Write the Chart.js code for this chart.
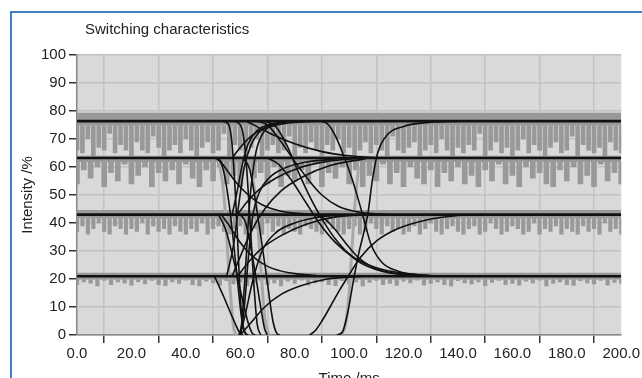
<!DOCTYPE html>
<html><head><meta charset="utf-8">
<script src="https://cdn.jsdelivr.net/npm/chart.js@4.4.1/dist/chart.umd.min.js"></script>
<style>
html,body{margin:0;padding:0;background:#fff;overflow:hidden;width:642px;height:378px;}
#wrap{position:relative;width:642px;height:378px;overflow:hidden;}
#frame{position:absolute;left:10px;top:11px;width:700px;height:420px;border-top:2px solid #3f80c4;border-left:2px solid #3f80c4;}
canvas{position:absolute;left:0;top:0;}
</style></head><body>
<div id="wrap"><div id="frame"></div><canvas id="c" width="642" height="396"></canvas></div>
<script>
// ---------- DATA ----------
const chartTitle = 'Switching characteristics';
const xTitle = 'Time /ms';
const yTitle = 'Intensity /%';
const xTicks = [0,20,40,60,80,100,120,140,160,180,200];
const xTickLabels = ['0.0','20.0','40.0','60.0','80.0','100.0','120.0','140.0','160.0','180.0','200.0'];
const yTicks = [0,10,20,30,40,50,60,70,80,90,100];
const yTickLabels = ['0','10','20','30','40','50','60','70','80','90','100'];

// settled intensity levels (black traces)
const levels = [76.4, 63.2, 43.0, 21.0];
// raw (grey) signal bands: upper and lower edge of the dense part
const bandHigh = [79.4, 64.0, 44.6, 22.2];
const bandLow  = [74.8, 61.8, 41.6, 19.8];
// raw signal minima, sampled every rawStep ms
const rawStepA = 2, rawStepB = 2.5, rawStepC = 2, rawStepD = 2.5;
const rawA = [66,65,70,64,67,66,72,65,68,66, 64,69,66,65,71,67,64,66,68,65, 70,66,64,67,69,65,66,72,64,68,
  66,65,67,70,64,66,68,65,66,71, 64,67,65,69,66,64,68,66,70,65, 67,64,66,69,65,68,66,64,71,66,
  65,67,69,64,66,68,65,70,66,64, 67,65,68,66,72,64,66,69,65,67, 64,66,70,65,68,66,64,67,69,65,
  66,71,64,68,66,65,67,64,69,66, 65];
const rawB = [54,59,56,60,53,58,55,61,54,57, 60,53,58,55,59,54,61,56,53,59, 55,60,54,57,53,61,56,58,54,60,
  53,57,55,59,54,61,53,58,56,60, 54,59,53,57,55,61,54,58,53,60, 56,54,59,53,58,55,60,54,57,53,
  59,55,61,54,57,53,60,56,58,54, 53,59,55,60,54,57,53,61,55,58, 54];
const rawC = [37,39,36,38,40,37,36,39,38,36, 38,37,40,36,39,37,38,36,39,37, 36,38,37,40,36,38,39,37,36,38,
  39,36,37,38,36,40,37,39,36,38, 37,36,39,38,37,36,40,38,37,36, 38,39,36,37,40,38,36,39,37,38,
  36,37,39,36,38,40,37,36,38,39, 37,36,38,39,36,37,40,38,36,37, 39,38,36,37,40,36,38,37,39,36,
  38,37,36,39,37,38,36,40,37,38, 36];
const rawD = [18,19,18.5,17.5,19.5,18,19,18.5,17.8,19, 18.2,19.5,18,17.6,19,18.4,19.6,18,17.5,19.2,
  18.6,17.8,19.4,18.2,19,17.6,18.8,19.5,18,18.6, 17.5,19.2,18.4,19.6,17.8,18.6,19,18,17.6,19.4,
  18.2,19,17.5,18.8,19.5,18,18.4,17.7,19.2,18.6, 19.6,17.8,18.4,19,18,17.5,19.4,18.6,18.2,19,
  17.6,18.8,19.5,18,18.4,17.8,19.2,18.6,19.6,17.5, 18.4,19,18,17.7,19.4,18.6,18.2,19.5,17.8,18.8, 18.4];

// transitions [time ms, intensity %]
const fall76to0a = [[53,76.4],[55.5,75.5],[57,68],[58.5,45],[60,14],[61,3],[62.5,0]];
const fall63to0  = [[51,63.2],[53.5,60],[56,46],[58.5,24],[60.5,6],[62,0.5],[63,0]];
const fall43to0  = [[52,43],[54.5,38],[57.5,27],[60.5,14],[63,4],[64.5,0.5],[65.5,0]];
const fall21to0  = [[50.5,21],[54,13.5],[57.5,5.5],[60,0.5],[61,0]];
const fall76to0b = [[58,76.4],[60.5,74],[62,64],[63.5,42],[65,18],[66.2,4],[67.5,0]];
const fall63to0b = [[61,63.2],[63.5,59],[66.5,42],[69.5,22],[72,5],[73.5,0.5],[74.5,0]];
const fall43to0b = [[60,43],[62,40],[65,25],[67.5,10],[69,2],[70,0]];
const rise0to76  = [[59.5,0],[60.5,4],[62,25],[63.5,48],[65.5,64],[68,71.5],[72,75],[80,76.4]];
const rise0to63  = [[60,0],[61.5,10],[63,28],[64.5,42],[67,51],[70.5,56],[76,59.5],[84,61.7],[98,63.1]];
const rise0to43  = [[60,0],[62,8],[64.5,19],[68,30],[73,36.5],[80,40],[90,42.3],[100,43]];
const rise0to21  = [[60,0],[64,4.5],[69,10],[75,14.5],[82,17.5],[92,20],[105,21]];
const rise21to76 = [[55,21],[57.5,32],[59.5,47],[61.5,60],[64,68],[67,72.5],[72,75.3],[80,76.4]];
const rise43to76 = [[57,43],[59,52],[61,62],[63,68.5],[66,72.8],[71,75.3],[80,76.4]];
const rise21to63 = [[57,21],[60,28],[64,37],[69,45],[75,51.5],[83,56.5],[93,60.5],[106,63]];
const rise43to63 = [[59,43],[62,47],[67,52],[73,56],[81,59.5],[92,62],[105,63.2]];
const rise21to43 = [[59,21],[63,26],[68,31],[75,35.5],[84,39.5],[95,42.2],[108,43]];
const rise63to76 = [[57,63.2],[60,67],[64,71],[69,73.8],[76,75.5],[88,76.4]];
const dec76to63  = [[62,76.4],[66,74.5],[72,71.5],[80,68.3],[90,65.5],[100,64],[110,63.3]];
const dec76to43  = [[66,76.4],[70,75],[75,69],[80,62],[85,55.5],[90,50],[96,46],[104,43.8],[114,43]];
const dec76to21  = [[69,76.4],[73,74.5],[77,68],[81,59],[85,50.5],[90,41.5],[96,33],[103,26.5],[112,22.8],[125,21.3],[135,21]];
const dec63to43  = [[52,63.2],[55,59],[58.5,54.5],[63,50],[68,46.5],[75,44.2],[85,43.2],[95,43]];
const dec63to21  = [[70,63.2],[74,61],[79,55],[84,47.5],[89,40],[95,33],[102,27.5],[110,24],[120,22],[132,21.1]];
const dec43to21  = [[87,43],[91,41.5],[95,37.5],[99,32.5],[103,28],[108,24.5],[115,22.3],[125,21.3],[135,21]];
const dec43to21e = [[53,43],[56,39],[60,33],[64,28.5],[70,24.5],[78,22.2],[88,21.2]];
const dec76to21l = [[89,76.4],[92,75.5],[95,71],[98,64],[101,56],[103.5,48],[105.5,41],[108,32.5],[112,26],[118,22.8],[128,21.3],[138,21]];
const rise0to43l = [[85.5,0],[87.5,1.5],[90,5],[93,10],[96.5,16],[100,21.5],[104,27.5],[110,33.5],[118,38],[128,41],[140,42.7],[150,43]];
const rise0to76l = [[95.5,0],[97.5,1],[99.5,8],[101.5,19],[103.5,29],[105.5,37],[107,44],[108.5,55],[110.5,65],[114,71.5],[120,74.5],[130,76],[140,76.4]];
const blackCurves = [fall76to0a,fall63to0,fall43to0,fall21to0,fall76to0b,fall63to0b,fall43to0b,
  rise0to76,rise0to63,rise0to43,rise0to21,rise21to76,rise43to76,rise21to63,rise43to63,rise21to43,rise63to76,
  dec76to63,dec76to43,dec76to21,dec63to43,dec63to21,dec43to21,dec43to21e,dec76to21l,rise0to43l,rise0to76l];
// raw (grey) transitions
const grayFall1 = [[52,63],[54,50],[56,20],[57.5,3],[58.5,0]];
const grayFall2 = [[63,63],[65.5,50],[67.5,25],[69,6],[70.5,0]];
const grayRise1 = [[96.5,0],[98.5,3],[100,15],[101,30],[102,45],[103.5,60]];
const grayCurves = [grayFall1, grayFall2, grayRise1];

// ---------- CHART ----------
const FONT = '"Liberation Sans", Arial, sans-serif';
const GREY = '#999999';
const pts = arr => arr.map(p => ({x: p[0], y: p[1]}));
const datasets = [];
levels.forEach((lv, i) => {
  datasets.push({type:'line', data:[{x:0,y:bandHigh[i]},{x:200,y:bandHigh[i]}], fill:{value:bandLow[i]},
    backgroundColor:GREY, borderWidth:0, pointRadius:0, order:6});
});
[[rawA,rawStepA,0,4],[rawB,rawStepB,1,5],[rawC,rawStepC,2,3.5],[rawD,rawStepD,3,3.5]].forEach(([arr,step,bi,th]) => {
  datasets.push({type:'bar', data: arr.map((v,i) => ({x:i*step, y:[v, bandLow[bi]]})),
    backgroundColor:GREY, borderWidth:0, barThickness:th, grouped:false, order:5});
});
grayCurves.forEach(c => datasets.push({type:'line', data:pts(c), borderColor:'#a8a8a8', borderWidth:3,
  pointRadius:0, cubicInterpolationMode:'monotone', fill:false, order:4}));
levels.forEach(lv => datasets.push({type:'line', data:[{x:0,y:lv},{x:200,y:lv}], borderColor:'#111',
  borderWidth:2.6, pointRadius:0, fill:false, order:3}));
blackCurves.forEach(c => datasets.push({type:'line', data:pts(c), borderColor:'#111', borderWidth:1.6,
  pointRadius:0, cubicInterpolationMode:'monotone', fill:false, order:2}));

const bgPlugin = {id:'plotBg', beforeDraw(chart){const {ctx, chartArea:a} = chart; ctx.save();
  ctx.fillStyle = '#d9d9d9'; ctx.fillRect(a.left, a.top, a.right-a.left, a.bottom-a.top); ctx.restore();}};
const titlePlugin = {id:'titleText', afterDraw(chart){const ctx = chart.ctx; ctx.save();
  ctx.font = '15px ' + FONT; ctx.fillStyle = '#222'; ctx.textBaseline = 'alphabetic';
  ctx.fillText(chartTitle, 85, 33.5); ctx.restore();}};

new Chart(document.getElementById('c'), {
  type:'line',
  data:{datasets},
  plugins:[bgPlugin, titlePlugin],
  options:{
    responsive:false, animation:false, devicePixelRatio:1,
    layout:{autoPadding:false, padding:{left:0,right:16,top:55,bottom:0}},
    plugins:{legend:{display:false}, tooltip:{enabled:false}, title:{display:false}},
    scales:{
      x:{type:'linear', min:0, max:200, offset:false,
        afterBuildTicks: s => { s.ticks = xTicks.map(v => ({value:v})); },
        afterFit: s => { s.height = 61; },
        ticks:{callback:(v,i) => xTickLabels[i], font:{size:15, family:FONT}, color:'#222', padding:2, maxRotation:0, autoSkip:false},
        grid:{color:'#c2c2c2', lineWidth:1.5, tickColor:'#333', tickLength:8, tickWidth:1.5},
        border:{color:'#888', width:1.5},
        title:{display:true, text:xTitle, font:{size:15, family:FONT}, color:'#222', padding:{top:0, bottom:8}}},
      y:{type:'linear', min:0, max:100,
        afterBuildTicks: s => { s.ticks = yTicks.map(v => ({value:v})); },
        afterFit: s => { s.width = 77; },
        ticks:{callback:(v,i) => yTickLabels[i], font:{size:15, family:FONT}, color:'#222', padding:3, autoSkip:false},
        grid:{color:'#c2c2c2', lineWidth:1.5, tickColor:'#333', tickLength:8, tickWidth:1.5},
        border:{color:'#888', width:1.5},
        title:{display:true, text:yTitle, font:{size:15, family:FONT}, color:'#222', padding:{top:18.5, bottom:0}}}
    }
  }
});
</script></body></html>
